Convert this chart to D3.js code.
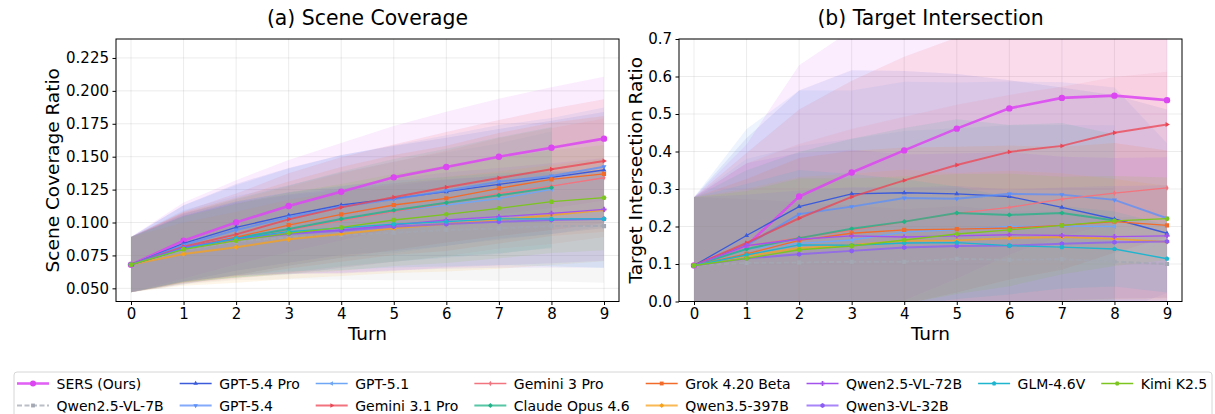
<!DOCTYPE html>
<html>
<head>
	<meta charset="utf-8">
	<title>Scene Coverage / Target Intersection</title>
	<script src="https://cdn.jsdelivr.net/npm/d3@7/dist/d3.min.js"></script>
	<style>
	body{
		margin: 0;
		background: #ffffff;
	}
	svg text{
		font-family: "DejaVu Sans", sans-serif;
		fill: #000000;
	}
	</style>
</head>
<body>
	<svg id="chart" width="1215" height="414"></svg>

	<script>
		var turns = [0, 1, 2, 3, 4, 5, 6, 7, 8, 9];

		// legend / plot order
		var models = ["SERS (Ours)", "Qwen2.5-VL-7B", "GPT-5.4 Pro", "GPT-5.4", "GPT-5.1", "Gemini 3.1 Pro",
			"Gemini 3 Pro", "Claude Opus 4.6", "Grok 4.20 Beta", "Qwen3.5-397B", "Qwen2.5-VL-72B",
			"Qwen3-VL-32B", "GLM-4.6V", "Kimi K2.5"];

		// (a) scene coverage, mean per turn (rows follow models)
		var coverageMean = [
			[0.068, 0.0862, 0.1001, 0.1125, 0.1234, 0.1343, 0.1422, 0.1500, 0.1568, 0.1637],
			[0.068, 0.0790, 0.0854, 0.0888, 0.0905, 0.0922, 0.0943, 0.0956, 0.0973, 0.0973],
			[0.068, 0.0842, 0.0963, 0.1055, 0.1133, 0.1181, 0.1234, 0.1290, 0.1343, 0.1399],
			[0.068, 0.0829, 0.0943, 0.1040, 0.1120, 0.1176, 0.1242, 0.1310, 0.1353, 0.1424],
			[0.068, 0.0816, 0.0892, 0.0943, 0.1019, 0.1082, 0.1133, 0.1181, 0.1252],
			[0.068, 0.0816, 0.0910, 0.1024, 0.1115, 0.1192, 0.1268, 0.1338, 0.1404, 0.1467],
			[0.068, 0.0804, 0.0872, 0.0943, 0.1014, 0.1082, 0.1146, 0.1222, 0.1277, 0.1340],
			[0.068, 0.0804, 0.0880, 0.0951, 0.1027, 0.1093, 0.1150, 0.1207, 0.1265],
			[0.068, 0.0809, 0.0888, 0.0981, 0.1062, 0.1133, 0.1184, 0.1260, 0.1328, 0.1369],
			[0.068, 0.0760, 0.0812, 0.0872, 0.0913, 0.0956, 0.0988, 0.1019, 0.1057, 0.1095],
			[0.068, 0.0810, 0.0880, 0.0918, 0.0943, 0.0981, 0.1019, 0.1044, 0.1070, 0.1100],
			[0.068, 0.0804, 0.0872, 0.0913, 0.0938, 0.0968, 0.0988, 0.1006, 0.1019, 0.1027],
			[0.068, 0.0800, 0.0880, 0.0930, 0.0960, 0.0988, 0.1006, 0.1027, 0.1027, 0.1027],
			[0.068, 0.0796, 0.0862, 0.0918, 0.0963, 0.1019, 0.1062, 0.1108, 0.1158, 0.1189]
		];

		// (a) scene coverage, std per turn
		var coverageStd = [
			[0.021, 0.029, 0.032, 0.035, 0.037, 0.039, 0.042, 0.044, 0.046, 0.047],
			[0.021, 0.026, 0.029, 0.032, 0.034, 0.036, 0.038, 0.040, 0.042, 0.043],
			[0.021, 0.029, 0.033, 0.036, 0.038, 0.040, 0.041, 0.042, 0.043, 0.044],
			[0.021, 0.030, 0.034, 0.037, 0.039, 0.041, 0.042, 0.043, 0.044, 0.045],
			[0.021, 0.028, 0.031, 0.034, 0.036, 0.038, 0.040, 0.042, 0.044],
			[0.021, 0.027, 0.031, 0.035, 0.038, 0.040, 0.042, 0.044, 0.046, 0.047],
			[0.021, 0.027, 0.030, 0.033, 0.036, 0.038, 0.040, 0.042, 0.044, 0.045],
			[0.021, 0.026, 0.030, 0.033, 0.036, 0.039, 0.041, 0.044, 0.046],
			[0.021, 0.027, 0.030, 0.033, 0.036, 0.038, 0.040, 0.042, 0.043, 0.044],
			[0.021, 0.024, 0.027, 0.030, 0.032, 0.034, 0.036, 0.037, 0.038, 0.039],
			[0.021, 0.026, 0.028, 0.031, 0.033, 0.035, 0.036, 0.037, 0.038, 0.039],
			[0.021, 0.025, 0.028, 0.030, 0.032, 0.033, 0.034, 0.035, 0.036, 0.037],
			[0.021, 0.025, 0.028, 0.030, 0.032, 0.033, 0.034, 0.035, 0.036, 0.037],
			[0.021, 0.025, 0.028, 0.031, 0.033, 0.035, 0.037, 0.038, 0.039, 0.040]
		];

		// (b) target intersection, mean per turn
		var interMean = [
			[0.096, 0.149, 0.280, 0.344, 0.403, 0.461, 0.515, 0.543, 0.549, 0.537],
			[0.096, 0.103, 0.104, 0.106, 0.106, 0.114, 0.111, 0.113, 0.106, 0.100],
			[0.096, 0.176, 0.253, 0.287, 0.290, 0.287, 0.280, 0.251, 0.220, 0.182],
			[0.096, 0.150, 0.233, 0.253, 0.276, 0.274, 0.287, 0.285, 0.271, 0.222],
			[0.096, 0.140, 0.155, 0.164, 0.185, 0.192, 0.200, 0.201, 0.200],
			[0.096, 0.156, 0.222, 0.279, 0.323, 0.364, 0.399, 0.415, 0.450, 0.472],
			[0.096, 0.148, 0.170, 0.190, 0.213, 0.235, 0.251, 0.273, 0.289, 0.303],
			[0.096, 0.140, 0.169, 0.194, 0.213, 0.236, 0.231, 0.236, 0.216],
			[0.096, 0.127, 0.163, 0.182, 0.191, 0.193, 0.196, 0.203, 0.213, 0.203],
			[0.096, 0.121, 0.142, 0.151, 0.162, 0.163, 0.169, 0.172, 0.167, 0.159],
			[0.096, 0.149, 0.166, 0.175, 0.172, 0.175, 0.178, 0.176, 0.173, 0.175],
			[0.096, 0.115, 0.126, 0.135, 0.144, 0.148, 0.149, 0.154, 0.158, 0.160],
			[0.096, 0.124, 0.151, 0.150, 0.156, 0.157, 0.149, 0.145, 0.140, 0.114],
			[0.096, 0.115, 0.138, 0.148, 0.164, 0.180, 0.191, 0.203, 0.215, 0.221]
		];

		// (b) target intersection, std per turn
		var interStd = [
			[0.182, 0.27, 0.35, 0.38, 0.40, 0.40, 0.39, 0.37, 0.34, 0.31],
			[0.182, 0.17, 0.16, 0.15, 0.14, 0.14, 0.13, 0.13, 0.12, 0.12],
			[0.182, 0.26, 0.31, 0.33, 0.325, 0.32, 0.31, 0.32, 0.33, 0.33],
			[0.182, 0.31, 0.33, 0.31, 0.31, 0.31, 0.30, 0.30, 0.30, 0.20],
			[0.182, 0.24, 0.26, 0.27, 0.27, 0.27, 0.27, 0.27, 0.27],
			[0.182, 0.24, 0.29, 0.31, 0.33, 0.34, 0.34, 0.33, 0.32, 0.30],
			[0.182, 0.22, 0.25, 0.27, 0.28, 0.29, 0.30, 0.30, 0.31, 0.31],
			[0.182, 0.21, 0.23, 0.24, 0.25, 0.25, 0.24, 0.24, 0.23],
			[0.182, 0.20, 0.22, 0.22, 0.22, 0.22, 0.22, 0.21, 0.21, 0.20],
			[0.182, 0.18, 0.19, 0.19, 0.19, 0.18, 0.18, 0.17, 0.16, 0.15],
			[0.182, 0.22, 0.23, 0.23, 0.22, 0.22, 0.22, 0.21, 0.21, 0.21],
			[0.182, 0.17, 0.17, 0.17, 0.16, 0.16, 0.15, 0.15, 0.15, 0.15],
			[0.182, 0.19, 0.20, 0.19, 0.17, 0.15, 0.13, 0.11, 0.10, 0.09],
			[0.182, 0.18, 0.19, 0.18, 0.17, 0.16, 0.15, 0.13, 0.12, 0.11]
		];

		var coverageTicks = [0.050, 0.075, 0.100, 0.125, 0.150, 0.175, 0.200, 0.225];
		var interTicks = [0.0, 0.1, 0.2, 0.3, 0.4, 0.5, 0.6, 0.7];

		// styles
		var colors = ["#dc45f2", "#a3a8b3", "#3b5bdb", "#5b8ff9", "#6fa6f6", "#ec4452",
			"#f2747e", "#1fb387", "#f26b2a", "#f7a21b", "#a352ee",
			"#8b5cf6", "#1eb5cf", "#7cc520"];
		var markers = ["o", "s", "^", "v", "<", ">", "d", "D", "s", "D", "P", "h", "p", "H"];
		var lineWidths = [2.6, 2, 1.3, 2, 1.3, 2, 1.3, 2, 1.3, 2, 1.3, 2, 1.3, 1.3];
		var lineAlpha = [0.85, 0.75, 1, 0.75, 1, 0.75, 1, 0.75, 1, 0.75, 1, 0.75, 1, 1];

		var svg = d3.select("#chart");

		function poly(pts){
			return "M" + pts.map(function(p){ return p[0].toFixed(2) + "," + p[1].toFixed(2); }).join("L") + "Z";
		}

		function regular(n, r, rot){
			var pts = [];
			for(var i = 0; i < n; i++){
				var a = rot + i * 2 * Math.PI / n;
				pts.push([r * Math.sin(a), -r * Math.cos(a)]);
			}
			return poly(pts);
		}

		function markerPath(type, r){
			switch(type){
				case "o": return d3.symbol(d3.symbolCircle, Math.PI * r * r)();
				case "s": return poly([[-r * 0.8, -r * 0.8], [r * 0.8, -r * 0.8], [r * 0.8, r * 0.8], [-r * 0.8, r * 0.8]]);
				case "^": return regular(3, r * 1.1, 0);
				case "v": return regular(3, r * 1.1, Math.PI);
				case "<": return regular(3, r * 1.1, -Math.PI / 2);
				case ">": return regular(3, r * 1.1, Math.PI / 2);
				case "d": return poly([[0, -r * 1.1], [r * 0.6, 0], [0, r * 1.1], [-r * 0.6, 0]]);
				case "D": return poly([[0, -r], [r, 0], [0, r], [-r, 0]]);
				case "p": return regular(5, r, 0);
				case "h": return regular(6, r, 0);
				case "H": return regular(6, r, Math.PI / 6);
				case "P":
					var a = r * 0.35, b = r;
					return poly([[-a, -b], [a, -b], [a, -a], [b, -a], [b, a], [a, a], [a, b], [-a, b], [-a, a], [-b, a], [-b, -a], [-a, -a]]);
			}
			return d3.symbol(d3.symbolCircle, Math.PI * r * r)();
		}

		function drawPanel(opts){
			var x = d3.scaleLinear().domain([0, 9]).range([opts.x0, opts.x9]);
			var y = d3.scaleLinear().domain(opts.yDomain).range([opts.bottom, opts.top]);
			var left = opts.x0 - 15, right = opts.x9 + 15;

			var g = svg.append("g");

			g.append("clipPath").attr("id", opts.id + "Clip")
				.append("rect")
				.attr("x", left).attr("y", opts.top)
				.attr("width", right - left).attr("height", opts.bottom - opts.top);

			// grid
			g.append("g").selectAll("line.vg")
				.data(turns)
				.enter().append("line")
				.attr("x1", function(d){ return x(d); })
				.attr("x2", function(d){ return x(d); })
				.attr("y1", opts.top).attr("y2", opts.bottom)
				.attr("stroke", "#b0b0b0").attr("stroke-opacity", 0.3).attr("stroke-width", 0.8);
			g.append("g").selectAll("line.hg")
				.data(opts.ticks)
				.enter().append("line")
				.attr("x1", left).attr("x2", right)
				.attr("y1", function(d){ return y(d); })
				.attr("y2", function(d){ return y(d); })
				.attr("stroke", "#b0b0b0").attr("stroke-opacity", 0.3).attr("stroke-width", 0.8);

			var plot = g.append("g").attr("clip-path", "url(#" + opts.id + "Clip)");

			// std bands
			var area = d3.area()
				.x(function(d){ return x(d.t); })
				.y0(function(d){ return y(d.m - d.s); })
				.y1(function(d){ return y(d.m + d.s); });

			models.forEach(function(name, i){
				var pts = opts.mean[i].map(function(m, t){ return {t: t, m: m, s: opts.std[i][t]}; });
				plot.append("path")
					.attr("d", area(pts))
					.attr("fill", colors[i])
					.attr("fill-opacity", 0.1)
					.attr("stroke", "none");
			});

			var line = d3.line()
				.x(function(d, t){ return x(t); })
				.y(function(d){ return y(d); });

			models.forEach(function(name, i){
				plot.append("path")
					.attr("d", line(opts.mean[i]))
					.attr("fill", "none")
					.attr("stroke", colors[i])
					.attr("stroke-width", lineWidths[i])
					.attr("stroke-opacity", lineAlpha[i])
					.attr("stroke-dasharray", i === 1 ? "5,2.5" : null);

				plot.selectAll(null)
					.data(opts.mean[i])
					.enter().append("path")
					.attr("transform", function(d, t){ return "translate(" + x(t) + "," + y(d) + ")"; })
					.attr("d", markerPath(markers[i], i === 0 ? 3.2 : 2.6))
					.attr("fill", colors[i]);
			});

			// frame
			g.append("rect")
				.attr("x", left).attr("y", opts.top)
				.attr("width", right - left).attr("height", opts.bottom - opts.top)
				.attr("fill", "none").attr("stroke", "#000").attr("stroke-width", 1);

			var xAxis = g.append("g")
				.attr("transform", "translate(0," + opts.bottom + ")")
				.call(d3.axisBottom(x).tickValues(turns).tickSize(3.5).tickPadding(3.5).tickFormat(d3.format("d")));
			var yAxis = g.append("g")
				.attr("transform", "translate(" + left + ",0)")
				.call(d3.axisLeft(y).tickValues(opts.ticks).tickSize(3.5).tickPadding(3.5).tickFormat(d3.format(opts.fmt)));
			[xAxis, yAxis].forEach(function(a){
				a.select(".domain").remove();
				a.selectAll("text").style("font-size", "15px").attr("fill", "#000");
				a.selectAll("line").attr("stroke", "#000");
			});

			g.append("text")
				.attr("x", (left + right) / 2).attr("y", 25)
				.attr("text-anchor", "middle")
				.style("font-size", "20.4px")
				.text(opts.title);
			g.append("text")
				.attr("x", (left + right) / 2).attr("y", 339.5)
				.attr("text-anchor", "middle")
				.style("font-size", "18.5px")
				.text("Turn");
			g.append("text")
				.attr("transform", "translate(" + opts.ylabelX + "," + ((opts.top + opts.bottom) / 2) + ") rotate(-90)")
				.attr("text-anchor", "middle")
				.style("font-size", "18.5px")
				.text(opts.ylabel);
		}

		drawPanel({
			id: "cov", x0: 131, x9: 604, top: 39, bottom: 301.5,
			yDomain: [0.04, 0.2394], ticks: coverageTicks, fmt: ".3f",
			mean: coverageMean, std: coverageStd,
			title: "(a) Scene Coverage", ylabel: "Scene Coverage Ratio", ylabelX: 58.5
		});

		drawPanel({
			id: "int", x0: 694, x9: 1167, top: 39, bottom: 301.5,
			yDomain: [0, 0.7], ticks: interTicks, fmt: ".1f",
			mean: interMean, std: interStd,
			title: "(b) Target Intersection", ylabel: "Target Intersection Ratio", ylabelX: 642
		});

		// legend: 8 columns, column-major, first 6 columns hold two entries
		var legend = svg.append("g");
		legend.append("rect")
			.attr("x", 14).attr("y", 372)
			.attr("width", 1198).attr("height", 60)
			.attr("rx", 3)
			.attr("fill", "#ffffff").attr("fill-opacity", 0.8)
			.attr("stroke", "#d6d6d6").attr("stroke-width", 1);

		var cols = [];
		var idx = 0;
		for(var c = 0; c < 8; c++){
			var n = c < 6 ? 2 : 1;
			cols.push(d3.range(idx, idx + n));
			idx += n;
		}

		var rowY = [383.5, 405.5];
		var cx = 17;
		cols.forEach(function(col){
			var maxW = 0;
			col.forEach(function(i, r){
				var item = legend.append("g");
				item.append("line")
					.attr("x1", cx).attr("x2", cx + 32)
					.attr("y1", rowY[r]).attr("y2", rowY[r])
					.attr("stroke", colors[i])
					.attr("stroke-width", lineWidths[i])
					.attr("stroke-opacity", lineAlpha[i])
					.attr("stroke-dasharray", i === 1 ? "5,2.5" : null);
				item.append("path")
					.attr("transform", "translate(" + (cx + 16) + "," + rowY[r] + ")")
					.attr("d", markerPath(markers[i], i === 0 ? 3 : 2.4))
					.attr("fill", colors[i]);
				var t = item.append("text")
					.attr("x", cx + 39.5).attr("y", rowY[r])
					.attr("dy", "0.36em")
					.style("font-size", "14px")
					.text(models[i]);
				maxW = Math.max(maxW, t.node().getComputedTextLength());
			});
			cx += 39.5 + maxW + 16;
		});
	</script>
</body>
</html>
